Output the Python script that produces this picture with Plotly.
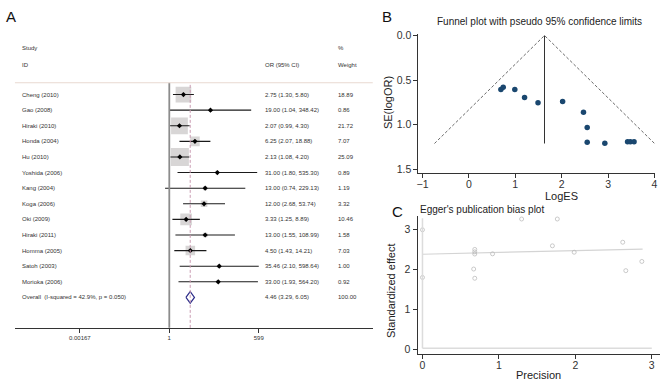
import math
import plotly.graph_objects as go

W, H = 669, 384
FONT = "Liberation Sans, Arial, sans-serif"

def px(x):
    return x / W

def py(y):
    return 1 - y / H

# ---------------- Panel A data (forest plot) ----------------
studies = ["Cheng (2010)", "Gao (2008)", "Hiraki (2010)", "Honda (2004)", "Hu (2010)",
           "Yoshida (2006)", "Kang (2004)", "Koga (2006)", "Oki (2009)", "Hiraki (2011)",
           "Homma (2005)", "Satoh (2003)", "Morioka (2006)"]
or_est = [2.75, 19.00, 2.07, 6.25, 2.13, 31.00, 13.00, 12.00, 3.33, 13.00, 4.50, 35.46, 33.00]
or_low = [1.30, 1.04, 0.99, 2.07, 1.08, 1.80, 0.74, 2.68, 1.25, 1.55, 1.43, 2.10, 1.93]
or_high = [5.80, 348.42, 4.30, 18.88, 4.20, 535.30, 229.13, 53.74, 8.89, 108.99, 14.21, 598.64, 564.20]
weights = [18.89, 0.86, 21.72, 7.07, 25.09, 0.89, 1.19, 3.32, 10.46, 1.58, 7.03, 1.00, 0.92]
overall_label = "Overall  (I-squared = 42.9%, p = 0.050)"
overall_est, overall_low, overall_high, overall_weight = 4.46, 3.29, 6.05, 100.00
forest_ticks = [0.00167, 1, 599]
forest_ticktext = ["0.00167", "1", "599"]

# ---------------- Panel B data (funnel plot) ----------------
funnel_loges = [0.69, 0.74, 0.99, 1.20, 1.49, 2.02, 2.47, 2.55, 2.55, 2.93, 3.42, 3.48, 3.56]
funnel_se = [0.606, 0.581, 0.606, 0.695, 0.754, 0.739, 0.86, 1.03, 1.195, 1.206, 1.19, 1.19, 1.19]
funnel_pooled = 1.63
funnel_se_max = 1.21

# ---------------- Panel C data (Egger plot) ----------------
egger_precision = [0.0, 0.0, 0.684, 0.684, 0.684, 0.67, 0.684, 0.917, 1.297, 1.764, 1.70, 1.985, 2.62, 2.66, 2.87]
egger_effect = [2.99, 1.80, 2.50, 2.44, 2.385, 2.01, 1.78, 2.39, 3.26, 3.26, 2.59, 2.43, 2.68, 1.97, 2.20]
egger_fit_x = [0.0, 2.88]
egger_fit_y = [2.38, 2.51]

fig = go.Figure()
n = len(studies)
rows = list(range(n))

# ---- forest: boxes
fig.add_trace(go.Scatter(
    x=or_est, y=rows, mode="markers", xaxis="x", yaxis="y",
    marker=dict(symbol="square", size=[3.6 * math.sqrt(w) for w in weights],
                color="#c7c5c4", line=dict(width=0)),
    hoverinfo="skip", showlegend=False))
# ---- forest: CI lines
cx, cy = [], []
for i in rows:
    cx += [or_low[i], or_high[i], None]
    cy += [i, i, None]
fig.add_trace(go.Scatter(x=cx, y=cy, mode="lines", xaxis="x", yaxis="y",
                         line=dict(color="#1a1a1a", width=1.1),
                         hoverinfo="skip", showlegend=False))
# ---- forest: point estimates
fig.add_trace(go.Scatter(x=or_est, y=rows, mode="markers", xaxis="x", yaxis="y",
                         marker=dict(symbol="diamond", size=4, color="#000000"),
                         hoverinfo="skip", showlegend=False))
# ---- forest: overall diamond
dh = 0.37
fig.add_trace(go.Scatter(
    x=[overall_low, overall_est, overall_high, overall_est, overall_low],
    y=[n, n - dh, n, n + dh, n], mode="lines", fill="toself", fillcolor="white",
    line=dict(color="#2e2e8a", width=1.2), xaxis="x", yaxis="y",
    hoverinfo="skip", showlegend=False))

# ---- funnel
fig.add_trace(go.Scatter(
    x=[funnel_pooled - 1.96 * funnel_se_max, funnel_pooled, funnel_pooled + 1.96 * funnel_se_max],
    y=[funnel_se_max, 0, funnel_se_max], mode="lines", xaxis="x2", yaxis="y2",
    line=dict(color="#444444", width=0.8, dash="3px,2px"), hoverinfo="skip", showlegend=False))
fig.add_trace(go.Scatter(
    x=[funnel_pooled, funnel_pooled], y=[0, funnel_se_max], mode="lines", xaxis="x2", yaxis="y2",
    line=dict(color="#333333", width=1), hoverinfo="skip", showlegend=False))
fig.add_trace(go.Scatter(
    x=funnel_loges, y=funnel_se, mode="markers", xaxis="x2", yaxis="y2",
    marker=dict(symbol="circle", size=5.5, color="#1a476f"), hoverinfo="skip", showlegend=False))

# ---- egger
fig.add_trace(go.Scatter(
    x=egger_fit_x, y=egger_fit_y, mode="lines", xaxis="x3", yaxis="y3",
    line=dict(color="#d4d4d4", width=1.2), hoverinfo="skip", showlegend=False))
fig.add_trace(go.Scatter(
    x=egger_precision, y=egger_effect, mode="markers", xaxis="x3", yaxis="y3",
    marker=dict(symbol="circle-open", size=4, color="#bdbdbd", line=dict(width=0.8)),
    hoverinfo="skip", showlegend=False))

shapes = [
    # forest reference lines
    dict(type="line", xref="x", yref="y domain", x0=1, x1=1, y0=0, y1=1,
         line=dict(color="#8c8c8c", width=1.8)),
    dict(type="line", xref="x", yref="y domain", x0=overall_est, x1=overall_est, y0=0, y1=1,
         line=dict(color="#c99bb2", width=1, dash="3px,2px")),
    dict(type="line", xref="paper", yref="paper", x0=px(13), x1=px(373), y0=py(80), y1=py(80),
         line=dict(color="#e8d9d1", width=1)),
    # egger light reference lines
    dict(type="line", xref="x3", yref="y3", x0=0, x1=3.0, y0=0.03, y1=0.03,
         line=dict(color="#dcdcdc", width=1.5)),
    dict(type="line", xref="x3", yref="y3", x0=0, x1=0, y0=0.03, y1=3.28,
         line=dict(color="#dcdcdc", width=1.5)),
]

tf = dict(family=FONT, size=6, color="#333333")
ann = []
for i in rows:
    ann.append(dict(x=px(17.7), y=i, xref="paper", yref="y", text=studies[i], showarrow=False,
                    xanchor="left", yanchor="middle", font=tf))
    ann.append(dict(x=px(263), y=i, xref="paper", yref="y",
                    text=f"{or_est[i]:.2f} ({or_low[i]:.2f}, {or_high[i]:.2f})", showarrow=False,
                    xanchor="left", yanchor="middle", font=tf))
    ann.append(dict(x=px(336), y=i, xref="paper", yref="y", text=f"{weights[i]:.2f}", showarrow=False,
                    xanchor="left", yanchor="middle", font=tf))
ann.append(dict(x=px(17.7), y=n, xref="paper", yref="y", text=overall_label, showarrow=False,
                xanchor="left", yanchor="middle", font=tf))
ann.append(dict(x=px(263), y=n, xref="paper", yref="y",
                text=f"{overall_est:.2f} ({overall_low:.2f}, {overall_high:.2f})", showarrow=False,
                xanchor="left", yanchor="middle", font=tf))
ann.append(dict(x=px(336), y=n, xref="paper", yref="y", text=f"{overall_weight:.2f}", showarrow=False,
                xanchor="left", yanchor="middle", font=tf))
for txt, x, y in [("Study", 17.7, 45), ("ID", 17.7, 62), ("OR (95% CI)", 263, 62),
                  ("%", 336, 45), ("Weight", 336, 62)]:
    ann.append(dict(x=px(x), y=py(y), xref="paper", yref="paper", text=txt, showarrow=False,
                    xanchor="left", yanchor="middle", font=tf))
# panel letters
for txt, x, y in [("A", 9, 12.5), ("B", 387, 13), ("C", 398, 211)]:
    ann.append(dict(x=px(x), y=py(y), xref="paper", yref="paper", text=txt, showarrow=False,
                    xanchor="center", yanchor="middle", font=dict(family=FONT, size=15, color="#111111")))
# titles
ann.append(dict(x=px(541), y=py(18), xref="paper", yref="paper",
                text="Funnel plot with pseudo 95% confidence limits", showarrow=False,
                xanchor="center", yanchor="middle", font=dict(family=FONT, size=10, color="#222222")))
ann.append(dict(x=px(418), y=py(209), xref="paper", yref="paper",
                text="Egger's publication bias plot", showarrow=False,
                xanchor="left", yanchor="middle", font=dict(family=FONT, size=10, color="#222222")))
# axis titles
title_font = dict(family=FONT, size=11, color="#222222")
ann.append(dict(x=px(563), y=py(195), xref="paper", yref="paper", text="LogES", showarrow=False,
                xanchor="center", yanchor="middle", font=title_font))
ann.append(dict(x=px(389), y=py(100), xref="paper", yref="paper", text="SE(logOR)", showarrow=False,
                xanchor="center", yanchor="middle", textangle=-90, font=title_font))
ann.append(dict(x=px(540), y=py(377), xref="paper", yref="paper", text="Precision", showarrow=False,
                xanchor="center", yanchor="middle", font=title_font))
ann.append(dict(x=px(392), y=py(291), xref="paper", yref="paper", text="Standardized effect",
                showarrow=False, xanchor="center", yanchor="middle", textangle=-90, font=title_font))

axis_common = dict(showgrid=False, zeroline=False, showline=True, linecolor="#333333", linewidth=1,
                   ticks="outside", ticklen=4, tickcolor="#333333",
                   tickfont=dict(family=FONT, size=10.5, color="#333333"))

fig.update_layout(
    width=W, height=H, autosize=False,
    margin=dict(l=0, r=0, t=0, b=0),
    paper_bgcolor="white", plot_bgcolor="rgba(0,0,0,0)",
    xaxis=dict(type="log", domain=[px(13), px(373)],
               range=[(13 - 168.3) / 32.405, (373 - 168.3) / 32.405],
               showgrid=False, zeroline=False, showline=True, linecolor="#333333", linewidth=1,
               ticks="outside", ticklen=4, tickcolor="#333333",
               tickvals=forest_ticks, ticktext=forest_ticktext,
               tickfont=dict(family=FONT, size=6, color="#333333"), anchor="y"),
    yaxis=dict(domain=[py(329), py(80)], range=[(329 - 92) / 15.85, (80 - 92) / 15.85],
               visible=False, anchor="x"),
    xaxis2=dict(domain=[px(419), px(657)], range=[-1.086, 4.013], anchor="y2",
                tickvals=[-1, 0, 1, 2, 3, 4], ticktext=["\u22121", "0", "1", "2", "3", "4"],
                ticklabelstandoff=-3, **axis_common),
    yaxis2=dict(domain=[py(172), py(30)], range=[1.544, -0.022], anchor="x2",
                tickvals=[0, 0.5, 1.0, 1.5], ticktext=["0.0", "0.5", "1.0", "1.5"],
                **axis_common),
    xaxis3=dict(domain=[px(418), px(662)], range=[-0.065, 3.108], anchor="y3",
                tickvals=[0, 1, 2, 3], ticklabelstandoff=-3, **axis_common),
    yaxis3=dict(domain=[py(356), py(215)], range=[-0.123, 3.344], anchor="x3",
                tickvals=[0, 1, 2, 3], **axis_common),
    shapes=shapes, annotations=ann,
)

fig.write_html("out.html", config={"displayModeBar": False},
               post_script="document.body.style.margin='0';document.body.style.overflow='hidden';")
